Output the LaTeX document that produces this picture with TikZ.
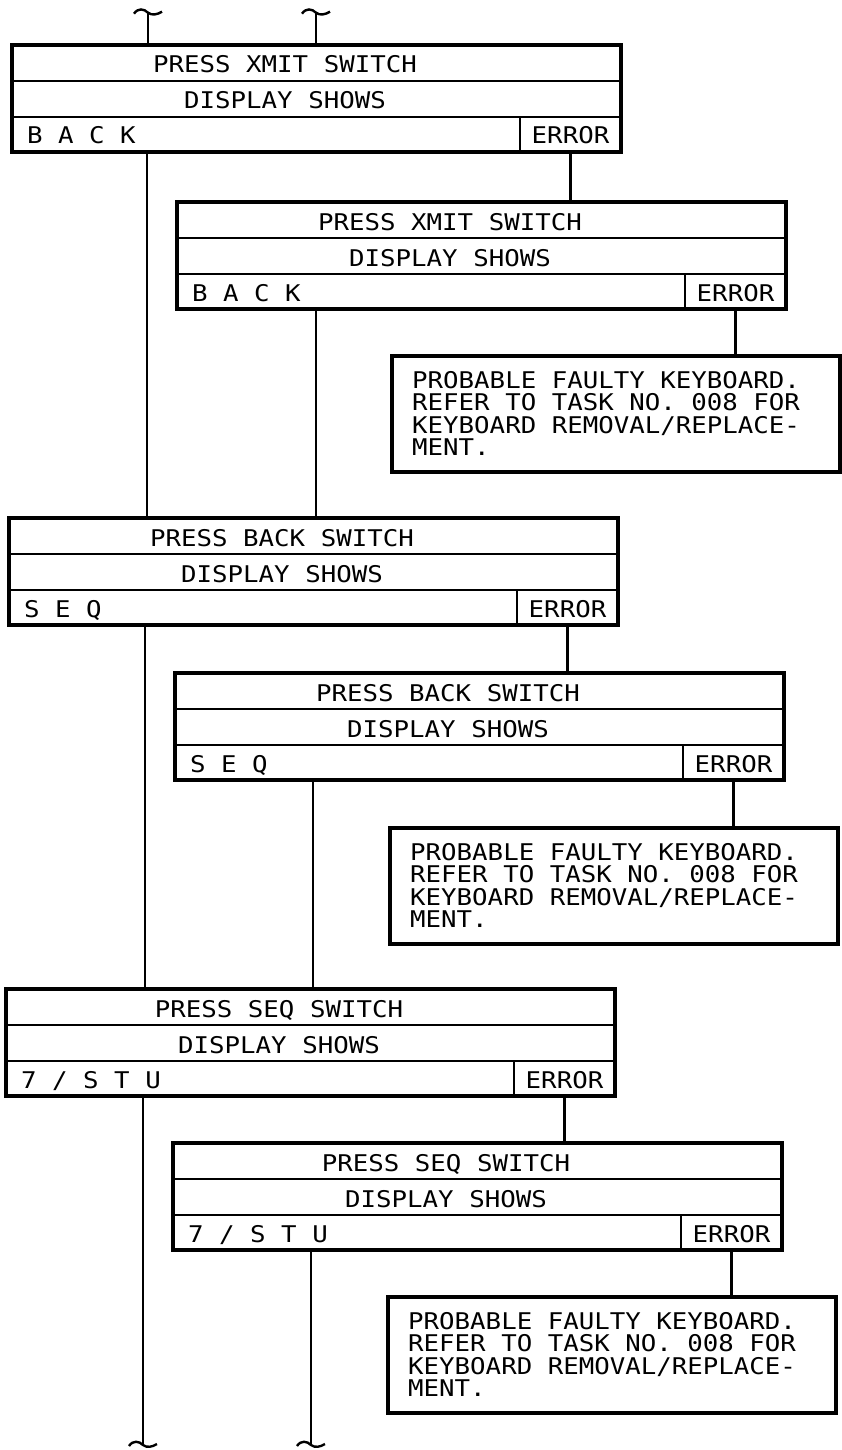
\documentclass[tikz,border=0pt]{standalone}
\usepackage{fontspec}
\newfontfamily\plotfont[FakeStretch=1.12]{DejaVu Sans Mono}
\tikzset{
  outerbox/.style={draw, line width=3.4pt, minimum width=609pt, minimum height=107pt,
    inner sep=0pt, outer sep=0pt, anchor=north west},
  innerline/.style={line width=2pt},
  conn/.style={line width=2.4pt},
  lbl/.style={font=\plotfont\fontsize{23}{22.5}\selectfont\frenchspacing, inner sep=0pt},
  notebox/.style={draw, line width=3.4pt, minimum width=448pt, minimum height=116pt,
    inner sep=0pt, outer sep=0pt, anchor=north west},
  notetext/.style={lbl, align=left, anchor=north west},
  brk/.pic={\draw[conn] (-14,1) .. controls (-10,-5) and (-4,-4) .. (0,0)
     .. controls (4,3) and (9,2) .. (14,-1);}
}
% #1 name, #2 x, #3 y, #4 row 1, #5 row 2, #6 row 3
\newcommand\procbox[6]{%
  \node[outerbox] (#1) at (#2,#3) {};
  \draw[innerline] ([yshift=-36pt]#1.north west) -- ([yshift=-36pt]#1.north east);
  \draw[innerline] ([yshift=-72pt]#1.north west) -- ([yshift=-72pt]#1.north east);
  \draw[innerline] ([xshift=508pt,yshift=-72pt]#1.north west) -- ([xshift=508pt]#1.south west);
  \node[lbl, anchor=base] (#1t1) at ([xshift=273pt,yshift=-28pt]#1.north west) {#4};
  \node[lbl, anchor=base] (#1t2) at ([xshift=273pt,yshift=-64pt]#1.north west) {#5};
  \node[lbl, anchor=base west] (#1t3) at ([xshift=15pt,yshift=-99pt]#1.north west) {#6};
  \node[lbl, anchor=base] (#1err) at ([xshift=558.5pt,yshift=-99pt]#1.north west) {ERROR};
  \coordinate (#1e) at ([xshift=558.5pt]#1.south west);
}
% #1 name, #2 x, #3 y
\newcommand\notebox[3]{%
  \node[notebox] (#1) at (#2,#3) {};
  \node[notetext] (#1t) at ([xshift=20pt,yshift=-15pt]#1.north west)
    {PROBABLE FAULTY KEYBOARD.\\REFER TO TASK NO. 008 FOR\\KEYBOARD REMOVAL/REPLACE-\\MENT.};
}
\begin{document}
\begin{tikzpicture}[x=1pt,y=-1pt]
\useasboundingbox (0,0) rectangle (841,1450);

\procbox{A1}{12}{45}{PRESS XMIT SWITCH}{DISPLAY SHOWS}{B A C K}
\procbox{A2}{177}{202}{PRESS XMIT SWITCH}{DISPLAY SHOWS}{B A C K}
\procbox{B1}{9}{518}{PRESS BACK SWITCH}{DISPLAY SHOWS}{S E Q}
\procbox{B2}{175}{673}{PRESS BACK SWITCH}{DISPLAY SHOWS}{S E Q}
\procbox{C1}{6}{989}{PRESS SEQ SWITCH}{DISPLAY SHOWS}{7 / S T U}
\procbox{C2}{173}{1143}{PRESS SEQ SWITCH}{DISPLAY SHOWS}{7 / S T U}

\notebox{N1}{392}{356}
\notebox{N2}{390}{828}
\notebox{N3}{388}{1297}

% incoming lines with break marks
\coordinate (tL) at (148,12.7);
\coordinate (tR) at (316,12.7);
\draw[conn] (tL) -- (tL |- A1.north);
\draw[conn] (tR) -- (tR |- A1.north);
\pic at (tL) {brk};
\pic at (tR) {brk};

% trunk lines
\coordinate (L1) at (147,0);
\coordinate (R1) at (316,0);
\coordinate (L2) at (145,0);
\coordinate (R2) at (313,0);
\draw[conn] (L1 |- A1.south) -- (L1 |- B1.north);
\draw[conn] (R1 |- A2.south) -- (R1 |- B1.north);
\draw[conn] (L2 |- B1.south) -- (L2 |- C1.north);
\draw[conn] (R2 |- B2.south) -- (R2 |- C1.north);

% outgoing lines with break marks
\coordinate (bL) at (143,1445);
\coordinate (bR) at (311,1445);
\draw[conn] (bL |- C1.south) -- (bL);
\draw[conn] (bR |- C2.south) -- (bR);
\pic at (bL) {brk};
\pic at (bR) {brk};

% error branches
\draw[conn] (A1e) -- (A1e |- A2.north);
\draw[conn] (A2e) -- (A2e |- N1.north);
\draw[conn] (B1e) -- (B1e |- B2.north);
\draw[conn] (B2e) -- (B2e |- N2.north);
\draw[conn] (C1e) -- (C1e |- C2.north);
\draw[conn] (C2e) -- (C2e |- N3.north);
\end{tikzpicture}
\end{document}
